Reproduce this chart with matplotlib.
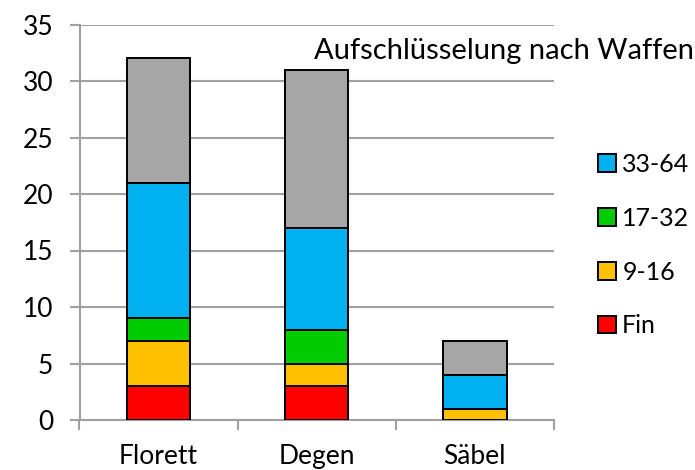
import matplotlib.pyplot as plt
import numpy as np

plt.rcParams["font.family"] = ["Lato", "DejaVu Sans"]

categories = ["Florett", "Degen", "Säbel"]
fin = [3, 3, 0]
r9_16 = [4, 2, 1]
r17_32 = [2, 3, 0]
r33_64 = [12, 9, 3]
rest = [11, 14, 3]

series = [
    ("Fin", fin, "#ff0000"),
    ("9-16", r9_16, "#ffc000"),
    ("17-32", r17_32, "#00cc00"),
    ("33-64", r33_64, "#00b0f0"),
    ("_rest", rest, "#a6a6a6"),
]

grid_col = "#a0a0a0"

fig = plt.figure(figsize=(6.95, 4.70), dpi=100)
ax = fig.add_axes([79.5 / 695, 1 - 420 / 470, (554 - 79.5) / 695, (420 - 24.5) / 470])

x = np.arange(len(categories))
bottom = np.zeros(len(categories))
handles = []
for name, vals, color in series:
    vals = np.array(vals, dtype=float)
    bars = ax.bar(x, vals, width=0.4, bottom=bottom, color=color,
                  edgecolor="black", linewidth=1.4, zorder=3)
    if not name.startswith("_"):
        handles.append((bars, name))
    bottom += vals

ax.set_xlim(-0.5, len(categories) - 0.5)
ax.set_ylim(0, 35)
ax.set_yticks(range(0, 36, 5))
ax.yaxis.grid(True, color=grid_col, linewidth=1.5, zorder=0)
ax.set_axisbelow(True)

ax.set_xticks(x)
ax.set_xticklabels(categories)
ax.set_xticks(np.arange(-0.5, len(categories), 1), minor=True)
ax.tick_params(axis="x", which="major", length=0, pad=17, labelsize=19)
ax.tick_params(axis="x", which="minor", length=7, width=1.5, color=grid_col)
ax.tick_params(axis="y", length=7, width=1.5, color=grid_col, labelsize=19, pad=12)

for side in ["top", "right"]:
    ax.spines[side].set_visible(False)
for side in ["left", "bottom"]:
    ax.spines[side].set_color(grid_col)
    ax.spines[side].set_linewidth(1.5)

fig.text(0.998, 1 - 51 / 470, "Aufschlüsselung nach Waffen", ha="right", va="center", fontsize=21)

handles = handles[::-1]
fig.legend([h for h, _ in handles], [n for _, n in handles],
           loc="upper left", bbox_to_anchor=(598 / 695, 1 - 153 / 470),
           frameon=False, fontsize=18, handlelength=0.72, handleheight=0.72,
           handletextpad=0.25, labelspacing=1.23, borderaxespad=0,
           borderpad=0)

fig.savefig("out.png", dpi=100)
